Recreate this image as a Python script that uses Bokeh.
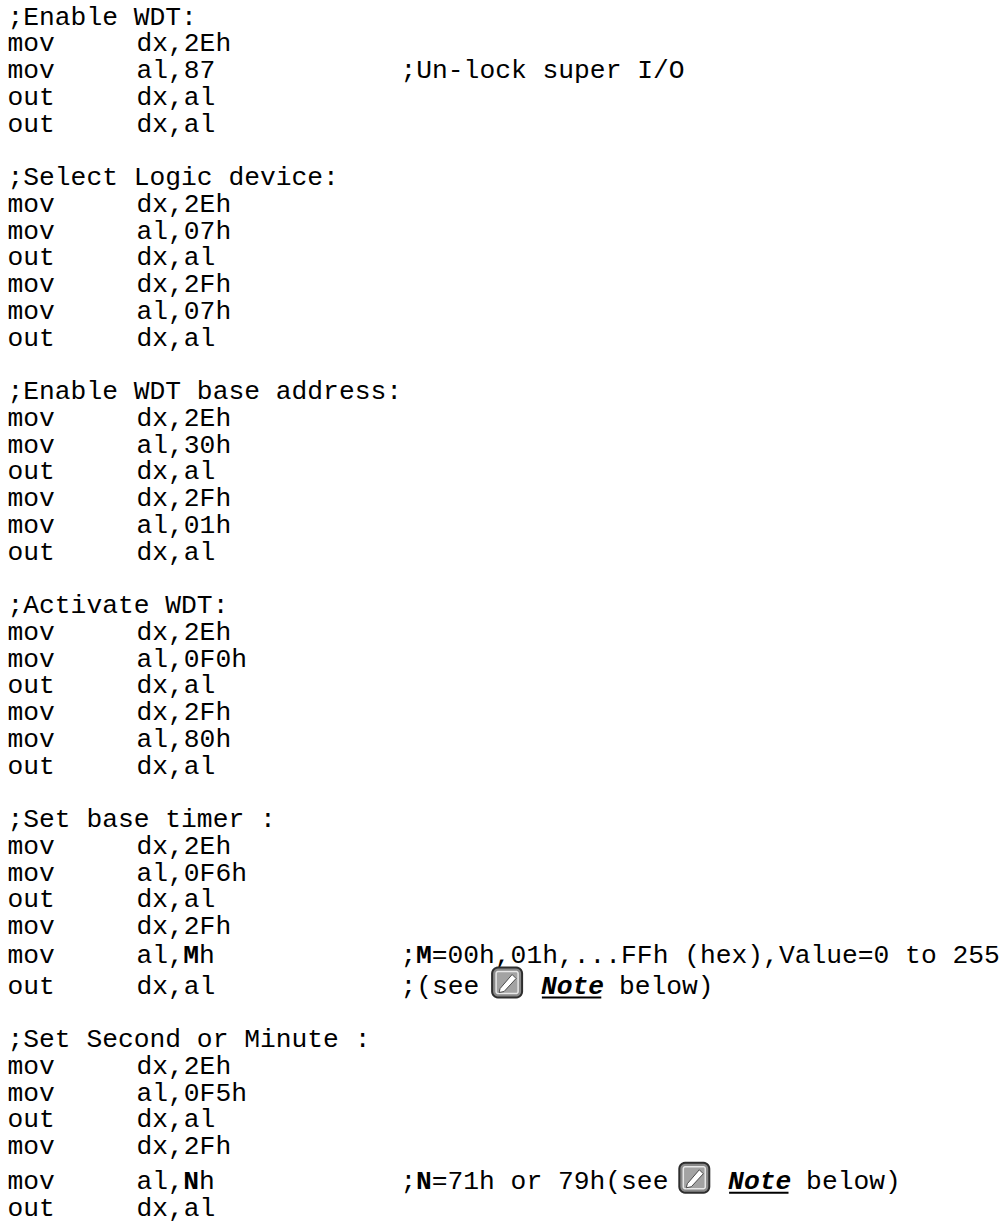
import re
import numpy as np
from bokeh.plotting import figure
from bokeh.models import ColumnDataSource, Range1d
from bokeh.core.properties import value
from bokeh.embed import file_html
from bokeh.resources import INLINE

# ---------------- data: the listing, three tab columns ----------------
col0 = [
    ";Enable WDT:", "mov", "mov", "out", "out", "",
    ";Select Logic device:", "mov", "mov", "out", "mov", "mov", "out", "",
    ";Enable WDT base address:", "mov", "mov", "out", "mov", "mov", "out", "",
    ";Activate WDT:", "mov", "mov", "out", "mov", "mov", "out", "",
    ";Set base timer :", "mov", "mov", "out", "mov", "mov", "out", "",
    ";Set Second or Minute :", "mov", "mov", "out", "mov", "mov", "out",
]
col1 = [
    "", "dx,2Eh", "al,87", "dx,al", "dx,al", "",
    "", "dx,2Eh", "al,07h", "dx,al", "dx,2Fh", "al,07h", "dx,al", "",
    "", "dx,2Eh", "al,30h", "dx,al", "dx,2Fh", "al,01h", "dx,al", "",
    "", "dx,2Eh", "al,0F0h", "dx,al", "dx,2Fh", "al,80h", "dx,al", "",
    "", "dx,2Eh", "al,0F6h", "dx,al", "dx,2Fh", "al,**M**h", "dx,al", "",
    "", "dx,2Eh", "al,0F5h", "dx,al", "dx,2Fh", "al,**N**h", "dx,al",
]
col2 = [""] * len(col0)
col2[2] = ";Un-lock super I/O"
col2[35] = ";**M**=00h,01h,...FFh (hex),Value=0 to 255"
col2[36] = ";(see {icon} __Note__ below)"
col2[43] = ";**N**=71h or 79h(see {icon} __Note__ below)"

# ---------------- layout ----------------
W, H = 1008, 1222
FONT = "Liberation Mono"
FSIZE = "26.3px"
PITCH = 15.6             # advance of one character
TABS = [7, 136, 400]     # left edge of the three columns (page px)
Y0, LP = 17, 26.75       # first row centre, line pitch
EXTRA = {35: 2, 36: 4, 43: 8}  # taller lines (they hold the note icon)

row_y = []
acc = 0
for i in range(len(col0)):
    acc += EXTRA.get(i, 0)
    row_y.append(Y0 + i * LP + acc)

TOKEN = re.compile(r"(\*\*.+?\*\*|__.+?__|\{icon\})")

plain = dict(x=[], y=[], text=[])
bold = dict(x=[], y=[], text=[])
note = dict(x=[], y=[], text=[])
icons = []
underlines = []

for r, cells in enumerate(zip(col0, col1, col2)):
    y = row_y[r]
    for c, cell in enumerate(cells):
        if not cell:
            continue
        col = 0
        for part in TOKEN.split(cell):
            if not part:
                continue
            if part == "{icon}":
                icons.append((TABS[c] + col * PITCH, y))
                col += 2
                continue
            if part.startswith("**"):
                t, tgt = part[2:-2], bold
            elif part.startswith("__"):
                t, tgt = part[2:-2], note
            else:
                t, tgt = part, plain
            lead = len(t) - len(t.lstrip(" "))
            col += lead
            t = t.lstrip(" ")
            x = TABS[c] + col * PITCH
            if tgt is note:
                underlines.append((x, x + len(t) * PITCH, y))
            if t.strip():
                tgt["x"].append(x)
                tgt["y"].append(y)
                tgt["text"].append(t)
            col += len(t)

p = figure(width=W, height=H, x_range=Range1d(0, W), y_range=Range1d(H, 0),
           output_backend="svg", toolbar_location=None, min_border=0,
           x_axis_type=None, y_axis_type=None)
p.grid.visible = False
p.outline_line_color = None
p.background_fill_color = "white"
p.border_fill_color = "white"

common = dict(text_font=value(FONT), text_font_size=FSIZE, text_baseline="middle",
              text_align="left", text_color="black")
p.text(x="x", y="y", text="text", source=ColumnDataSource(plain), **common)
p.text(x="x", y="y", text="text", source=ColumnDataSource(bold), text_font_style="bold", **common)
p.text(x="x", y="y", text="text", source=ColumnDataSource(note), text_font_style="bold italic", **common)

# underline of "Note"
for x0, x1, y in underlines:
    p.segment(x0=[x0 + 1], y0=[y + 11], x1=[x1 - 2], y1=[y + 11], line_color="black", line_width=2)


def rounded_square(cx, cy, s, r, n=6):
    xs, ys = [], []
    h = s / 2.0
    corners = [(cx + h - r, cy - h + r, -90, 0), (cx + h - r, cy + h - r, 0, 90),
               (cx - h + r, cy + h - r, 90, 180), (cx - h + r, cy - h + r, 180, 270)]
    for ox, oy, a0, a1 in corners:
        for a in np.linspace(np.radians(a0), np.radians(a1), n):
            xs.append(ox + r * np.cos(a))
            ys.append(oy + r * np.sin(a))
    return xs, ys


# note icons (grey rounded square with a white pencil)
S = 30
for x, y in icons:
    cx, cy = x + 13, y - 4
    xs, ys = rounded_square(cx, cy, S, 6)
    p.patch(xs, ys, fill_color="#8a8a8a", line_color="#2e2e2e", line_width=2)
    xs, ys = rounded_square(cx, cy, S - 8, 2)
    p.patch(xs, ys, fill_color="#a3a3a3", line_color="#e8e8e8", line_width=1.5)
    # pencil (diagonal, tip at lower-left)
    px = [cx - 7, cx + 5, cx + 9, cx - 3, cx - 8]
    py = [cy + 6, cy - 8, cy - 4, cy + 9, cy + 10]
    p.patch(px, py, fill_color="white", line_color="#4a4a4a", line_width=1)

open("out.html", "w").write(file_html(p, INLINE))
